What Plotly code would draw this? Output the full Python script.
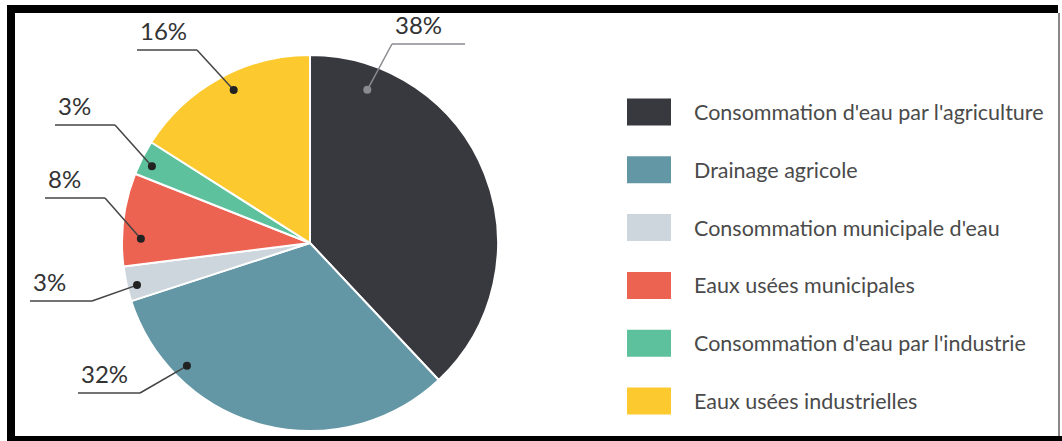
import math
import plotly.graph_objects as go

# ---------------- data ----------------
categories = [
    "Consommation d'eau par l'agriculture",
    "Drainage agricole",
    "Consommation municipale d'eau",
    "Eaux usées municipales",
    "Consommation d'eau par l'industrie",
    "Eaux usées industrielles",
]
values = [38, 32, 3, 8, 3, 16]
pct_labels = ["38%", "32%", "3%", "8%", "3%", "16%"]
colors = ["#38383f", "#6497a5", "#cdd6dd", "#ec6352", "#5ec19d", "#fcc92e"]

# ---------------- layout / style params (pixels) ----------------
W, H = 1062, 441
CX, CY, R = 310, 243, 188
# per-label: (fraction along slice, radius ratio, underline x0, x1, y, elbow side)
label_pos = [
    (0.15, 0.87, 392, 465, 44, "left"),
    (0.766, 0.925, 78, 140, 393, "right"),
    (0.40, 0.947, 30, 92, 301, "right"),
    (0.30, 0.90, 45, 105, 198, "right"),
    (0.40, 0.935, 55, 115, 125, "right"),
    (0.54, 0.91, 137, 197, 50, "right"),
]
dot_colors = ["#8a8a90", "#222", "#222", "#222", "#222", "#222"]
line_colors = ["#8a8a90", "#444", "#444", "#444", "#444", "#444"]
legend_x0, legend_x1 = 627, 671
legend_text_x = 692
legend_y0, legend_dy = 112, 57.8
swatch_h = 27

fig = go.Figure()

fig.add_trace(go.Pie(
    labels=categories,
    values=values,
    sort=False,
    direction="clockwise",
    rotation=0,
    marker=dict(colors=colors, line=dict(color="white", width=2)),
    textinfo="none",
    showlegend=False,
    domain=dict(x=[(CX - R) / W, (CX + R) / W],
                y=[(H - (CY + R)) / H, (H - (CY - R)) / H]),
))

shapes = []
annotations = []

total = sum(values)
cum = 0
for i, v in enumerate(values):
    f, rr, ux0, ux1, uy, side = label_pos[i]
    theta = math.radians((cum + f * v) / total * 360)
    cum += v
    dx = CX + rr * R * math.sin(theta)
    dy = CY - rr * R * math.cos(theta)
    ex = ux0 if side == "left" else ux1
    shapes.append(dict(type="line", xref="x", yref="y", x0=ux0, x1=ux1, y0=uy, y1=uy,
                       line=dict(color=line_colors[i], width=1.5)))
    shapes.append(dict(type="line", xref="x", yref="y", x0=ex, y0=uy, x1=dx, y1=dy,
                       line=dict(color=line_colors[i], width=1.5)))
    shapes.append(dict(type="circle", xref="x", yref="y", x0=dx - 4, x1=dx + 4,
                       y0=dy - 4, y1=dy + 4, fillcolor=dot_colors[i],
                       line=dict(width=0)))
    annotations.append(dict(x=ux0 + 1, y=uy - 3, xref="x", yref="y", text=pct_labels[i],
                            showarrow=False, xanchor="left", yanchor="bottom",
                            font=dict(family="Lato", size=24, color="#333")))

# custom legend
for i, (cat, col) in enumerate(zip(categories, colors)):
    yc = legend_y0 + i * legend_dy
    shapes.append(dict(type="rect", xref="x", yref="y", x0=legend_x0, x1=legend_x1,
                       y0=yc - swatch_h / 2, y1=yc + swatch_h / 2, fillcolor=col,
                       line=dict(width=0)))
    annotations.append(dict(x=legend_text_x, y=yc, xref="x", yref="y", text=cat,
                            showarrow=False, xanchor="left", yanchor="middle",
                            font=dict(family="Lato", size=21.5, color="#4a4a4a")))

# frame
shapes += [
    dict(type="rect", xref="x", yref="y", x0=7, x1=15, y0=5, y1=441, fillcolor="black", line=dict(width=0)),
    dict(type="rect", xref="x", yref="y", x0=7, x1=1058, y0=5, y1=13, fillcolor="black", line=dict(width=0)),
    dict(type="rect", xref="x", yref="y", x0=7, x1=1062, y0=436, y1=441, fillcolor="black", line=dict(width=0)),
    dict(type="rect", xref="x", yref="y", x0=1058, x1=1060, y0=13, y1=436, fillcolor="#888", line=dict(width=0)),
]

fig.update_layout(
    width=W, height=H,
    margin=dict(l=0, r=0, t=0, b=0),
    paper_bgcolor="white", plot_bgcolor="rgba(0,0,0,0)",
    xaxis=dict(range=[0, W], visible=False, fixedrange=True, domain=[0, 1]),
    yaxis=dict(range=[H, 0], visible=False, fixedrange=True, domain=[0, 1]),
    shapes=shapes,
    annotations=annotations,
    showlegend=False,
)

fig.write_html("out.html")
